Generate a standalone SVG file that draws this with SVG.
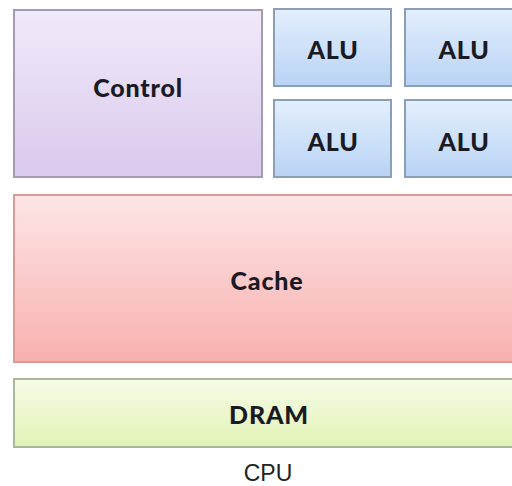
<svg xmlns="http://www.w3.org/2000/svg" width="512" height="486" viewBox="0 0 512 486">
<defs>
<linearGradient id="gCtl" x1="0" y1="0" x2="0" y2="1"><stop offset="0" stop-color="#f1eaf9"/><stop offset="1" stop-color="#d9c9ee"/></linearGradient>
<linearGradient id="gAlu" x1="0" y1="0" x2="0" y2="1"><stop offset="0" stop-color="#e3effd"/><stop offset="1" stop-color="#b9d3f5"/></linearGradient>
<linearGradient id="gCache" x1="0" y1="0" x2="0" y2="1"><stop offset="0" stop-color="#fde6e6"/><stop offset="1" stop-color="#f8b0ae"/></linearGradient>
<linearGradient id="gDram" x1="0" y1="0" x2="0" y2="1"><stop offset="0" stop-color="#f6fbe6"/><stop offset="1" stop-color="#e2f3b6"/></linearGradient>
</defs>
<style>
.lbl{font-family:Lato,"Liberation Sans",sans-serif;font-weight:900;font-size:25px;letter-spacing:0.8px;fill:#1a1a24;text-anchor:middle}
.cap{font-family:"Liberation Sans",Arial,sans-serif;font-size:23px;fill:#222;text-anchor:middle}
.ctl{fill:url(#gCtl);stroke:#a59cb3;stroke-width:2}
.alu{fill:url(#gAlu);stroke:#8c9fb8;stroke-width:2}
.cache{fill:url(#gCache);stroke:#d99a98;stroke-width:2}
.dram{fill:url(#gDram);stroke:#a9b99a;stroke-width:2}
</style>
<rect width="512" height="486" fill="#ffffff"/>
<g id="control"><rect class="ctl" x="14" y="10" width="248" height="167"/><text class="lbl" x="138" y="97">Control</text></g>
<g id="alu1"><rect class="alu" x="274" y="9" width="117" height="77"/><text class="lbl" x="333" y="59">ALU</text></g>
<g id="alu2"><rect class="alu" x="405" y="9" width="118" height="77"/><text class="lbl" x="464" y="59">ALU</text></g>
<g id="alu3"><rect class="alu" x="274" y="100" width="117" height="77"/><text class="lbl" x="333" y="151">ALU</text></g>
<g id="alu4"><rect class="alu" x="405" y="100" width="118" height="77"/><text class="lbl" x="464" y="151">ALU</text></g>
<g id="cache"><rect class="cache" x="14" y="195" width="508" height="167"/><text class="lbl" x="267" y="290">Cache</text></g>
<g id="dram"><rect class="dram" x="14" y="379" width="508" height="68"/><text class="lbl" x="269" y="424">DRAM</text></g>
<g id="connectors"></g>
<text class="cap" x="268" y="481">CPU</text>
</svg>
